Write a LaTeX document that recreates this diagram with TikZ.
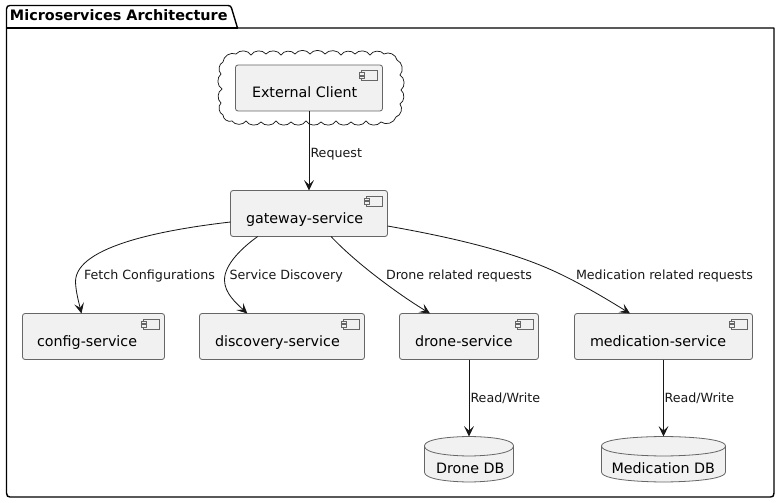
\documentclass[tikz,border=0pt]{standalone}
\usepackage{fontspec}
\setmainfont{DejaVu Sans}
\usetikzlibrary{arrows.meta,calc}
\definecolor{ink}{HTML}{181818}
\definecolor{boxfill}{HTML}{F1F1F1}
\definecolor{boxline}{HTML}{666666}
\tikzset{
  x=0.75pt,y=-0.75pt,
  compbox/.style={draw=boxline,fill=boxfill,line width=0.6pt,rounded corners=1.9pt,inner sep=0pt,outer sep=0pt,minimum height=34.5pt,anchor=north west},
  boxtext/.style={inner sep=0pt,outer sep=0pt,anchor=base west,font=\fontsize{10.72pt}{12pt}\selectfont,text=black},
  edgelabel/.style={inner sep=0pt,outer sep=0pt,anchor=base west,font=\fontsize{9.5pt}{12pt}\selectfont,text=ink},
  flow/.style={draw=ink,line width=0.62pt,-{Stealth[length=7.8pt,width=7.4pt,inset=3.4pt]}},
  dbshape/.style={draw=boxline,fill=boxfill,line width=0.6pt},
  pkg/.style={draw=black,line width=1.05pt,line join=round},
  cloudline/.style={draw=ink,line width=0.55pt,line join=round}
}
\newcommand{\compnode}[6]{% name, left, top, width, text xoffset, text
  \node[compbox,minimum width=#4*0.75pt] (#1) at (#2,#3) {};
  \node[boxtext] (#1-text) at ($(#1.north west)+(#5,33)$) {#6};
  \draw[boxline,line width=0.6pt,fill=boxfill] ($(#1.north east)+(-21,5.5)$) rectangle ($(#1.north east)+(-5,15.5)$);
  \draw[boxline,line width=0.6pt,fill=boxfill] ($(#1.north east)+(-23,7.5)$) rectangle ($(#1.north east)+(-18,10)$);
  \draw[boxline,line width=0.6pt,fill=boxfill] ($(#1.north east)+(-23,11)$) rectangle ($(#1.north east)+(-18,13.5)$);
}
\newcommand{\dbnode}[6]{% name, left, right, top, text xoffset, text
  \node[inner sep=0pt,outer sep=0pt,minimum width=(#3-#2)*0.75pt,minimum height=34.1pt,anchor=north west] (#1) at (#2,#4) {};
  \draw[dbshape] (#2,#4+9.5) .. controls (#2,#4) and ($(#2,#4)!.5!(#3,#4)$) .. ($(#2,#4)!.5!(#3,#4)$)
     .. controls ($(#2,#4)!.5!(#3,#4)$) and (#3,#4) .. (#3,#4+9.5) -- (#3,#4+35.5)
     .. controls (#3,#4+45.5) and ($(#2,#4+45.5)!.5!(#3,#4+45.5)$) .. ($(#2,#4+45.5)!.5!(#3,#4+45.5)$)
     .. controls ($(#2,#4+45.5)!.5!(#3,#4+45.5)$) and (#2,#4+45.5) .. (#2,#4+35.5) -- cycle;
  \draw[dbshape,fill=none] (#2,#4+9.5) .. controls (#2,#4+19.5) and ($(#2,#4+19.5)!.5!(#3,#4+19.5)$) .. ($(#2,#4+19.5)!.5!(#3,#4+19.5)$)
     .. controls ($(#2,#4+19.5)!.5!(#3,#4+19.5)$) and (#3,#4+19.5) .. (#3,#4+9.5);
  \node[boxtext] (#1-text) at ($(#1.north west)+(#5,37)$) {#6};
}
\begin{document}
\begin{tikzpicture}
\useasboundingbox (0,0) rectangle (779,503);
\fill[white] (0,0) rectangle (779,503);
% package
\draw[pkg,fill=white] (6.5,28) -- (6.5,9) .. controls (6.5,6.5) and (8,5.5) .. (10,5.5) -- (228,5.5)
   .. controls (230,5.5) and (231,6.5) .. (231.5,8) -- (237.5,28) -- (774,28) -- (774,493)
   .. controls (774,496) and (773,497) .. (770.5,497) -- (10,497)
   .. controls (8,497) and (6.5,496) .. (6.5,493) -- cycle;
\draw[pkg] (6.5,28) -- (237.5,28);
\node[inner sep=0pt,outer sep=0pt,anchor=base west,font=\fontsize{10.8pt}{12pt}\selectfont\bfseries] (title) at (10,21) {Microservices Architecture};
% cloud
\draw[cloudline,fill=white] (223,62)
  \foreach \px/\py in {236/54,251/55,266/54,281/55,295/54,310/54,325/54,341/55,355/54,370/55,384/54,397/60,400/75,401/90,400/104,396/117,381/122,366/121,351/122,336/121,321/122,306/121,291/122,276/121,261/122,246/121,232/121,223/115,221/103,222/89,221/74,223/62} {to[bend left=55] (\px,\py)};
% components
\compnode{client}{235.5}{65}{147}{16.5}{External Client}
\compnode{gw}{230.5}{190.5}{157}{15.5}{gateway-service}
\compnode{config}{22.5}{313.5}{142}{14.5}{config-service}
\compnode{discovery}{199.5}{313.5}{165}{15.5}{discovery-service}
\compnode{drone}{399.5}{313.5}{139}{15.5}{drone-service}
\compnode{med}{574.5}{313.5}{178}{15.5}{medication-service}
\dbnode{dronedb}{424.5}{513.5}{436.5}{11.5}{Drone DB}
\dbnode{meddb}{601.5}{725.5}{436.5}{10}{Medication DB}
% connectors
\draw[flow] (client.south) -- (gw.north);
\draw[flow] ([shift={(0,31.5)}]gw.north west) .. controls (170,229) and (75,245) .. (75.5,282)
   .. controls (76,293) and (79,303) .. ([shift={(59,0)}]config.north west);
\draw[flow] ([shift={(27.2,0)}]gw.south west) .. controls (243,247) and (224.5,264) .. (224.5,280)
   .. controls (224.5,293) and (236,303) .. ([shift={(47.8,0)}]discovery.north west);
\draw[flow] ([shift={(100.5,0)}]gw.south west) .. controls (355,262) and (395,292) .. ([shift={(30.5,0)}]drone.north west);
\draw[flow] ([shift={(0,35.5)}]gw.north east) .. controls (450,237) and (505,250) .. (547,268)
   .. controls (575,280) and (605,298) .. ([shift={(55.5,0)}]med.north west);
\draw[flow] (drone.south) -- (dronedb.north);
\draw[flow] (med.south) -- (meddb.north);
% labels
\node[edgelabel] (l1) at (310.5,157) {Request};
\node[edgelabel] (l2) at (84,279) {Fetch Configurations};
\node[edgelabel] (l3) at (229.5,279) {Service Discovery};
\node[edgelabel] (l4) at (386,279) {Drone related requests};
\node[edgelabel] (l5) at (576,279) {Medication related requests};
\node[edgelabel] (l6) at (470.5,402) {Read/Write};
\node[edgelabel] (l7) at (664.5,402) {Read/Write};
\end{tikzpicture}
\end{document}
